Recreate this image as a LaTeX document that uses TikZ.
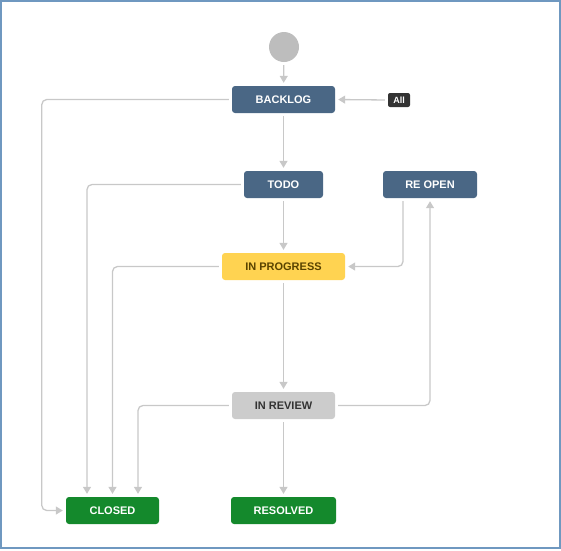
\documentclass[tikz,border=0pt]{standalone}
\usepackage{fontspec}
\setmainfont{Liberation Sans}
\usetikzlibrary{arrows.meta}
\definecolor{jblue}{HTML}{4A6785}
\definecolor{jgreen}{HTML}{14892C}
\definecolor{jyellow}{HTML}{FFD351}
\definecolor{jgray}{HTML}{CCCCCC}
\definecolor{jline}{HTML}{C8C8C8}
\definecolor{jframe}{HTML}{6F98C0}
\begin{document}
\begin{tikzpicture}[x=1pt,y=-1pt,
	status/.style={rounded corners=3pt, minimum height=27pt, inner sep=0pt, font=\fontsize{11}{13}\selectfont\bfseries},
	conn/.style={jline, line width=1.3pt, rounded corners=5pt, shorten <=3pt, shorten >=3pt, -{Triangle[width=8pt,length=7pt]}}]
\useasboundingbox (0,0) rectangle (561,550);
\draw[jframe, line width=1.5pt] (1,1) rectangle (560,548);
\node[circle, fill=black!26, minimum size=30pt, inner sep=0pt] (start) at (284,47) {};
\node[status, fill=jblue, text=white, minimum width=103pt] (backlog) at (283.5,99.5) {BACKLOG};
\node[rounded corners=2pt, fill=black!80, text=white, minimum width=22pt, minimum height=14pt, inner sep=0pt, font=\fontsize{9}{10}\selectfont\bfseries] (all) at (399,100) {All};
\node[status, fill=jblue, text=white, minimum width=79pt] (todo) at (283.5,184.5) {TODO};
\node[status, fill=jblue, text=white, minimum width=94pt] (reopen) at (430,184.5) {RE OPEN};
\node[status, fill=jyellow, text={rgb,255:red,89;green,67;blue,0}, minimum width=123pt] (inprog) at (283.5,266.5) {IN PROGRESS};
\node[status, fill=jgray, text=black!80, minimum width=103pt] (inreview) at (283.5,405.5) {IN REVIEW};
\node[status, fill=jgreen, text=white, minimum width=93pt] (closed) at (112.5,510.5) {CLOSED};
\node[status, fill=jgreen, text=white, minimum width=105pt] (resolved) at (283.5,510.5) {RESOLVED};
% straight down the middle
\draw[conn] (start) -- (backlog);
\draw[conn] (backlog) -- (todo);
\draw[conn] (todo) -- (inprog);
\draw[conn] (inprog) -- (inreview);
\draw[conn] (inreview) -- (resolved);
\draw[conn] (all.west) -- (backlog.east);
% into closed
\draw[conn] (backlog.west) -- ++(-190,0) |- (closed.west);
\foreach \src/\dx in {todo/-25.5, inprog/0, inreview/25.5}
	\draw[conn] (\src.west) -| ([xshift=\dx pt]closed.north);
% reopen loop
\draw[conn] ([xshift=-27pt]reopen.south) |- (inprog.east);
\draw[conn] (inreview.east) -| (reopen.south);
\end{tikzpicture}
\end{document}
